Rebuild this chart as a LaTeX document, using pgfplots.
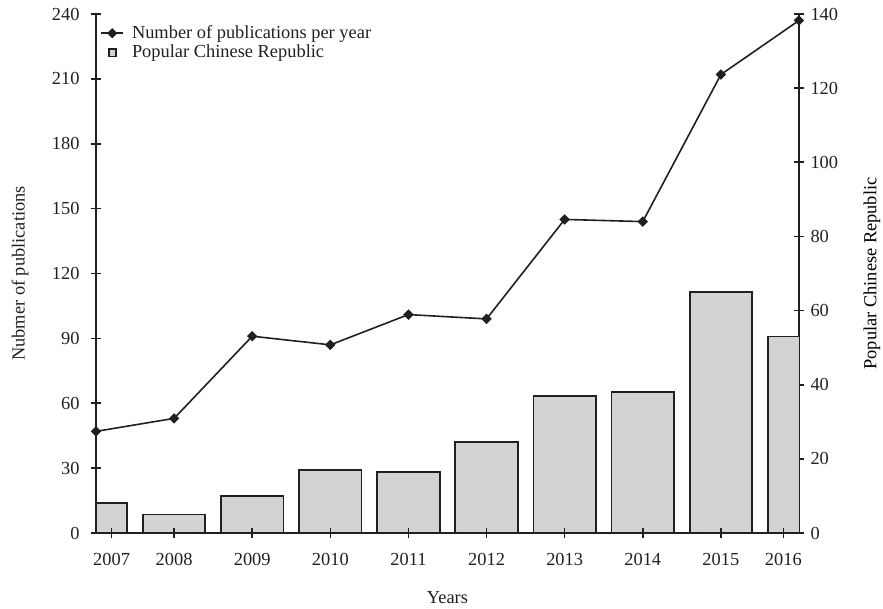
\documentclass[border=0pt]{standalone}
\usepackage{fontspec}
\setmainfont{Liberation Serif}
\usepackage{pgfplots}
\pgfplotsset{compat=1.18}
\definecolor{barfill}{RGB}{209,211,212}
\definecolor{ink}{RGB}{35,31,32}

\begin{document}
\fontsize{9.2}{11}\selectfont
\begin{tikzpicture}
\useasboundingbox (-48pt,-38pt) rectangle (393.5pt,266.5pt);
\pgfplotsset{
  every axis/.append style={
    scale only axis, width=351.5pt, height=259.5pt,
    xmin=0, xmax=9,
    enlarge x limits=false, enlarge y limits=false,
    tick align=outside,
    major tick length=5pt,
    axis line style={ink, line width=1pt},
    every tick/.style={ink, line width=0.8pt},
    tick label style={text=ink},
    label style={text=ink},
    /pgf/number format/assume math mode=true,
  },
  noarrows/.style={
    axis line style={-}, x axis line style={-}, y axis line style={-},
    every outer x axis line/.append style={-},
    every outer y axis line/.append style={-},
    every inner x axis line/.append style={-},
    every inner y axis line/.append style={-},
  },
}
% bars, right axis
\begin{axis}[
  axis x line=none, axis y line=right, noarrows,
  ymin=0, ymax=140, ytick={0,20,...,140},
  ylabel={Popular Chinese Republic},
  ylabel style={at={(axis description cs:1.1038,0.5)}, anchor=center},
  ybar, bar width=0.8,
]
\addplot[fill=barfill, draw=ink, line width=0.9pt] coordinates {
  (0,8) (1,5) (2,10) (3,17) (4,16.5) (5,24.5) (6,37) (7,38) (8,65) (9,53)};
\end{axis}
% publications, left axis
\begin{axis}[
  axis x line=bottom, axis y line=left, noarrows,
  clip=false,
  ymin=0, ymax=240, ytick={0,30,...,240},
  yticklabel style={xshift=-2.5pt},
  xtick={0.2,1,2,3,4,5,6,7,8,8.8},
  xticklabels={2007,2008,2009,2010,2011,2012,2013,2014,2015,2016},
  xticklabel style={yshift=-4.5pt},
  xlabel={Years},
  xlabel style={at={(axis description cs:0.5,0)}, yshift=-32.5pt, anchor=center},
  ylabel={Nubmer of publications},
  ylabel style={at={(axis description cs:-0.1081,0.5)}, anchor=center},
  legend style={at={(rel axis cs:0,1)}, anchor=north west, xshift=2pt, yshift=-4.5pt,
    draw=none, fill=none, inner sep=0pt, row sep=0pt,
    nodes={inner sep=1pt, text=ink},
    /tikz/every odd column/.append style={column sep=3pt}},
  legend cell align=left,
]
\addplot[ink, line width=0.8pt, mark=square*, mark size=1.45pt,
  mark options={rotate=45, solid, fill=ink},
  legend image code/.code={
    \draw[ink, line width=0.8pt] (0pt,0pt) -- (11pt,0pt);
    \fill[ink] (5.5pt,2pt) -- (7.5pt,0pt) -- (5.5pt,-2pt) -- (3.5pt,0pt) -- cycle;}]
  coordinates {
  (0,47) (1,53) (2,91) (3,87) (4,101) (5,99) (6,145) (7,144) (8,212) (9,237)};
\addlegendentry{Number of publications per year}
\addlegendimage{legend image code/.code={
    \draw[fill=barfill, draw=ink, line width=0.9pt] (3.7pt,-1.8pt) rectangle (7.3pt,1.8pt);}}
\addlegendentry{Popular Chinese Republic}
\end{axis}
\end{tikzpicture}
\end{document}
